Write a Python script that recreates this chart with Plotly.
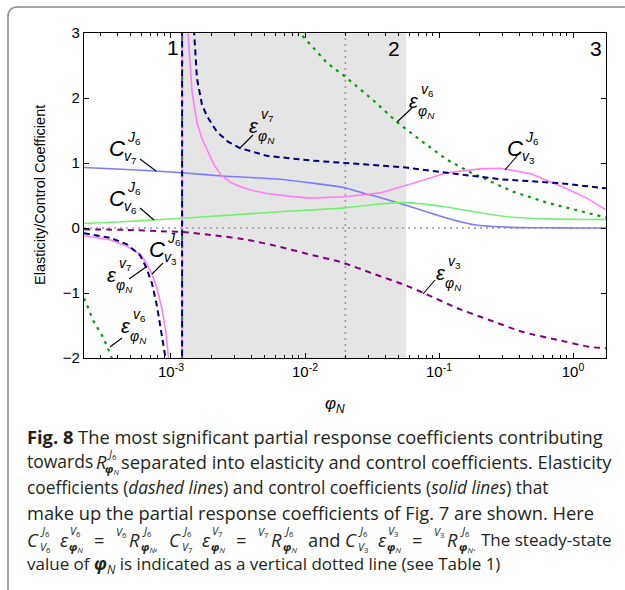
import plotly.graph_objects as go

# ---------------- data ----------------
X_RANGE_LOG = [-3.649, 0.246]
Y_RANGE = [-2, 3]
Y_TICKS = [-2, -1, 0, 1, 2, 3]
Y_TICK_TEXT = ["−2", "−1", "0", "1", "2", "3"]
X_TICKS = [1e-3, 1e-2, 1e-1, 1.0]
X_TICK_TEXT = ["10<sup>-3</sup>", "10<sup>-2</sup>", "10<sup>-1</sup>", "10<sup>0</sup>"]
X_MINOR = [m * 10.0 ** e for e in (-4, -3, -2, -1, 0) for m in range(2, 10)]

pole_phi = 1.21e-3        # boundary region 1 / 2
region2_end = 5.68e-2     # boundary region 2 / 3
phi_ss = 0.02             # steady state value of phi_N

region_labels = ["1", "2", "3"]

# Control coefficients (solid)
cv7_x = [2.24e-4, 4.7e-4, 1.208e-3, 2.4e-3, 6.5e-3, 1.148e-2, 1.99e-2, 2.9e-2, 3.63e-2,
         5.68e-2, 0.107, 0.183, 0.338, 0.64, 1.0, 1.76]
cv7_y = [0.93, 0.90, 0.85, 0.80, 0.75, 0.69, 0.62, 0.52, 0.47,
         0.35, 0.17, 0.05, 0.01, 0.003, 0.001, 0.0]

cv6_x = [2.24e-4, 4.7e-4, 1.208e-3, 2.4e-3, 6.5e-3, 1.99e-2, 3.63e-2, 5.77e-2, 0.107,
         0.183, 0.338, 0.64, 1.76]
cv6_y = [0.07, 0.10, 0.15, 0.19, 0.25, 0.31, 0.37, 0.39, 0.33,
         0.25, 0.17, 0.14, 0.13]

cv3_x = [2.24e-4, 3.51e-4, 4.7e-4, 5.88e-4, 6.51e-4, 7.21e-4, 7.86e-4, 8.57e-4, 9.18e-4,
         9.66e-4, 1.0e-3, 1.1e-3, 1.205e-3,
         1.215e-3, 1.316e-3, 1.34e-3, 1.387e-3, 1.435e-3, 1.5e-3, 1.563e-3, 1.7e-3,
         1.857e-3, 2.0e-3, 2.13e-3, 2.4e-3, 2.8e-3, 3.27e-3, 4.0e-3, 5.2e-3, 7.5e-3,
         1.089e-2, 1.99e-2, 3.63e-2, 6.4e-2, 0.1148, 0.202, 0.285, 0.478, 0.841, 1.27, 1.76]
cv3_y = [-0.12, -0.18, -0.28, -0.40, -0.53, -0.71, -0.92, -1.25, -1.60,
         -2.0, -2.4, -4.0, -60.0,
         60.0, 3.3, 3.0, 2.5, 2.1, 1.85, 1.62, 1.38,
         1.2, 1.06, 0.95, 0.80, 0.70, 0.64, 0.58, 0.53, 0.49,
         0.46, 0.48, 0.54, 0.69, 0.85, 0.91, 0.92, 0.84, 0.63, 0.46, 0.28]

# Elasticity coefficients (dashed)
ev7_x = [2.24e-4, 3.51e-4, 4.7e-4, 5.88e-4, 6.51e-4, 7.21e-4, 7.86e-4, 8.42e-4, 9.02e-4,
         9.33e-4, 1.0e-3, 1.1e-3, 1.205e-3,
         1.215e-3, 1.45e-3, 1.485e-3, 1.563e-3, 1.703e-3, 1.857e-3, 2.2e-3, 2.66e-3,
         3.27e-3, 5.2e-3, 1.089e-2, 1.99e-2, 3.63e-2, 5.68e-2, 0.1148, 0.285, 0.8, 1.76]
ev7_y = [-0.08, -0.15, -0.25, -0.42, -0.60, -0.85, -1.2, -1.55, -1.95,
         -2.3, -3.2, -5.0, -60.0,
         60.0, 3.4, 3.0, 2.3, 1.9, 1.72, 1.48, 1.33,
         1.23, 1.11, 1.04, 1.0, 0.96, 0.93, 0.85, 0.75, 0.69, 0.61]

ev6_x = [2.24e-4, 2.36e-4, 2.62e-4, 3.11e-4, 3.51e-4, 3.69e-4, 5e-4, 8e-4, 1.205e-3,
         1.215e-3, 3e-3, 7.73e-3, 9.18e-3, 1.459e-2, 1.99e-2, 3.21e-2, 4.86e-2, 7.6e-2,
         0.1148, 0.17, 0.24, 0.356, 0.64, 1.127, 1.76]
ev6_y = [-1.08, -1.18, -1.42, -1.68, -1.93, -2.05, -3.0, -8.0, -60.0,
         60.0, 6.0, 3.3, 3.0, 2.54, 2.33, 1.97, 1.63, 1.32,
         1.05, 0.86, 0.72, 0.56, 0.39, 0.26, 0.16]

ev3_x = [2.24e-4, 4.7e-4, 8.42e-4, 1.208e-3, 2.06e-3, 3.69e-3, 6.5e-3, 1.148e-2, 1.824e-2,
         3.21e-2, 5.77e-2, 7.87e-2, 0.136, 0.24, 0.424, 0.76, 1.34, 1.76]
ev3_y = [-0.02, -0.03, -0.05, -0.06, -0.11, -0.18, -0.29, -0.42, -0.52,
         -0.70, -0.89, -1.01, -1.23, -1.42, -1.60, -1.72, -1.83, -1.85]

# ---------------- layout helpers ----------------
W, H = 625, 590
L, R, T, B = 84, 606, 33, 358


def px(x):
    return (x - L) / (R - L)


def py(y):
    return (B - y) / (B - T)


FONT = "Liberation Sans, Arial, sans-serif"
CAP = "Open Sans, Noto Sans, sans-serif"
CAPCOL = "#231f20"

fig = go.Figure()

# shaded region 2
fig.add_trace(go.Scatter(
    x=[pole_phi, region2_end, region2_end, pole_phi, pole_phi],
    y=[Y_RANGE[0], Y_RANGE[0], Y_RANGE[1], Y_RANGE[1], Y_RANGE[0]],
    fill="toself", fillcolor="#e5e5e5", mode="lines", line=dict(width=0),
    hoverinfo="skip", showlegend=False))

# dotted reference lines
fig.add_trace(go.Scatter(x=[phi_ss, phi_ss], y=Y_RANGE, mode="lines",
                         line=dict(color="#9a9a9a", width=1.6, dash="2px,4px"),
                         hoverinfo="skip", showlegend=False))
fig.add_trace(go.Scatter(x=[10 ** X_RANGE_LOG[0], 10 ** X_RANGE_LOG[1]], y=[0, 0], mode="lines",
                         line=dict(color="#9a9a9a", width=1.6, dash="2px,4px"),
                         hoverinfo="skip", showlegend=False))

series = [
    (cv7_x, cv7_y, "#7b7bff", 1.6, "solid", "spline"),
    (cv6_x, cv6_y, "#78ee78", 1.6, "solid", "spline"),
    (cv3_x, cv3_y, "#ff80f4", 1.6, "solid", "linear"),
    (ev3_x, ev3_y, "#800080", 2.0, "6px,5px", "spline"),
    (ev6_x, ev6_y, "#0b9a0b", 2.2, "3px,5px", "linear"),
    (ev7_x, ev7_y, "#00007f", 2.0, "6px,4px", "linear"),
]
for xs, ys, col, wd, dash, shape in series:
    fig.add_trace(go.Scatter(x=xs, y=ys, mode="lines",
                             line=dict(color=col, width=wd, dash=dash, shape=shape,
                                       smoothing=0.6 if shape == "spline" else None),
                             hoverinfo="skip", showlegend=False))

ann = []
shapes = []


def text(x, y, s, size, family=FONT, xanchor="center", italic=False, bold=False, color="black", angle=0):
    if italic:
        s = "<i>" + s + "</i>"
    if bold:
        s = "<b>" + s + "</b>"
    ann.append(dict(x=px(x), y=py(y), xref="paper", yref="paper", text=s, showarrow=False,
                    xanchor=xanchor, yanchor="middle", textangle=angle, borderpad=0,
                    font=dict(family=family, size=size, color=color)))


def leader(x0, y0, x1, y1):
    shapes.append(dict(type="line", xref="paper", yref="paper", x0=px(x0), y0=py(y0),
                       x1=px(x1), y1=py(y1), line=dict(color="black", width=1.1)))


def c_label(cx, cy, sub):
    text(cx, cy, "C", 22, italic=True)
    text(cx + 9, cy - 10, "<i>J</i><sub>6</sub>", 14, xanchor="left")
    text(cx + 6, cy + 9, "<i>v</i><sub>%s</sub>" % sub, 14, xanchor="left")


def e_label(cx, cy, sup):
    text(cx, cy, "ε", 20, italic=True)
    text(cx + 6, cy - 11, "<i>v</i><sub>%s</sub>" % sup, 14, xanchor="left")
    text(cx + 3, cy + 11, "<i>φ</i><sub><i>N</i></sub>", 14, xanchor="left")


# curve labels
c_label(117, 148, "7"); leader(140, 159, 156, 171)
c_label(117, 198, "6"); leader(140, 208, 154, 220)
c_label(157, 249, "3"); leader(163, 263, 152, 274)
e_label(112, 275, "7"); leader(129, 279, 146, 267)
e_label(126, 326, "6"); leader(122, 338, 110, 347)
e_label(254, 126, "7"); leader(253, 135, 240, 148)
e_label(414, 101, "6"); leader(412, 108, 397, 122)
c_label(515, 148, "3"); leader(517, 156, 505, 170)
e_label(441, 273, "3"); leader(435, 280, 423, 294)

# region numbers
for lab, (x, y) in zip(region_labels, [(173, 48), (394, 49), (596, 49)]):
    text(x, y, lab, 21)

# axis titles
text(40, 195, "Elasticity/Control Coefficient", 14.5, angle=-90)
text(335, 405, "<i>φ</i><sub><i>N</i></sub>", 17)

# ---------------- caption ----------------
CS = 18.3
SS = 11


def ctext(x, y, s, size=CS, xanchor="left", italic=False):
    text(x, y, s, size, family=CAP, xanchor=xanchor, italic=italic, color=CAPCOL)


ctext(26, 436, "<b>Fig. 8</b> The most significant partial response coefficients contributing")
ctext(26, 461, "towards", 17.5)
ctext(95, 461, "R", italic=True)
ctext(106, 454, "<i>J</i><sub>6</sub>", SS)
ctext(104, 469, "<b><i>φ</i></b><sub><i>N</i></sub>", SS)
ctext(613, 461, "separated into elasticity and control coefficients. Elasticity", xanchor="right")
ctext(26, 487, "coefficients (<i>dashed lines</i>) and control coefficients (<i>solid lines</i>) that", 17.3)
ctext(26, 512, "make up the partial response coefficients of Fig. 7 are shown. Here")

YM = 539


def cap_group(x0, idx, tail):
    ctext(x0, YM, "C", italic=True)
    ctext(x0 + 13, YM - 8, "<i>J</i><sub>6</sub>", SS)
    ctext(x0 + 13, YM + 8, "<i>V</i><sub>%s</sub>" % idx, SS)
    ctext(x0 + 33, YM, "ε", italic=True)
    ctext(x0 + 43, YM - 8, "<i>V</i><sub>%s</sub>" % idx, SS)
    ctext(x0 + 42, YM + 8, "<b><i>φ</i></b><sub><i>N</i></sub>", SS)
    ctext(x0 + 67, YM, "=")
    ctext(x0 + 89, YM - 7, "<i>V</i><sub>%s</sub>" % idx, SS)
    ctext(x0 + 102, YM, "R", italic=True)
    ctext(x0 + 115, YM - 8, "<i>J</i><sub>6</sub>", SS)
    ctext(x0 + 114, YM + 8, "<b><i>φ</i></b><sub><i>N</i></sub>" + tail, SS)


cap_group(26, "6", ",")
cap_group(168, "7", "")
ctext(307, YM, "and")
cap_group(344, "3", ".")
ctext(613, YM, "The steady-state", 17)
ann[-1]["xanchor"] = "right"
ctext(26, 564, "value of <b><i>φ</i></b><sub><i>N</i></sub> is indicated as a vertical dotted line (see Table 1)", 17)

# frame of the figure panel (rounded top-left corner)
shapes.append(dict(type="path", xref="paper", yref="paper",
                   path="M %f,%f L %f,%f Q %f,%f %f,%f L %f,%f" % (
                       px(8), py(590), px(8), py(17), px(8), py(7), px(18), py(7), px(625), py(7)),
                   line=dict(color="#8c8c8c", width=1.6)))

axis_common = dict(showline=True, linecolor="black", linewidth=1.2, mirror="ticks",
                   ticks="inside", ticklen=5, tickcolor="black", tickwidth=1,
                   showgrid=False, zeroline=False,
                   tickfont=dict(family=FONT, size=15, color="black"))

fig.update_xaxes(type="log", range=X_RANGE_LOG, tickmode="array", tickvals=X_TICKS,
                 ticktext=X_TICK_TEXT,
                 minor=dict(ticks="inside", ticklen=3, tickcolor="black", tickvals=X_MINOR,
                            showgrid=False),
                 **axis_common)
fig.update_yaxes(range=Y_RANGE, tickmode="array", tickvals=Y_TICKS,
                 ticktext=Y_TICK_TEXT, **axis_common)

fig.update_layout(width=W, height=H, margin=dict(l=L, r=W - R, t=T, b=H - B),
                  plot_bgcolor="white", paper_bgcolor="white", showlegend=False,
                  annotations=ann, shapes=shapes)

fig.write_html("out.html", config={"displayModeBar": False},
               post_script="document.body.style.margin='0px';")
